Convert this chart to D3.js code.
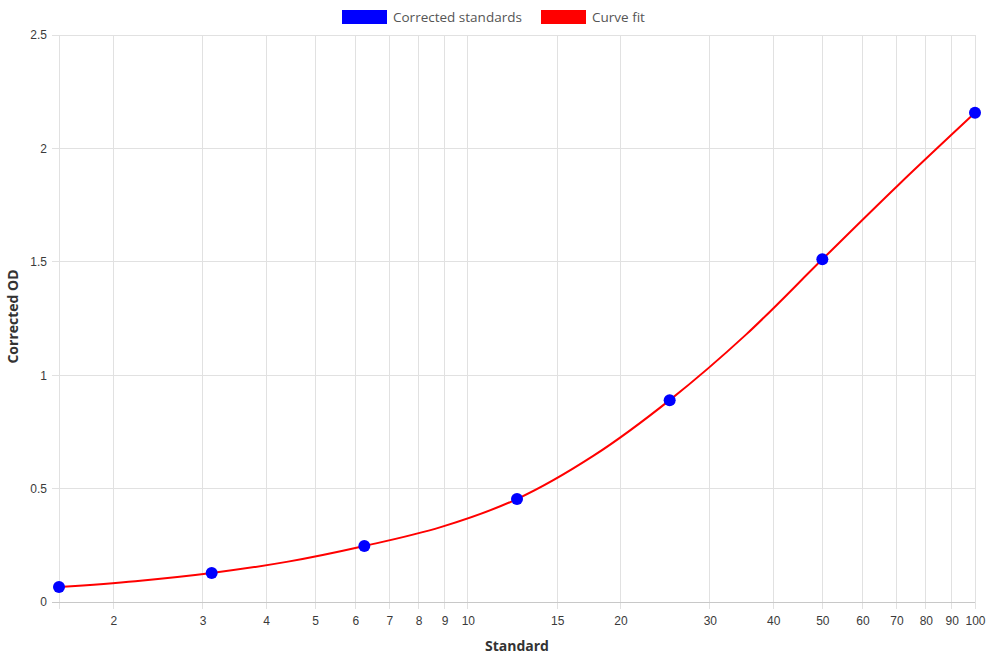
<!DOCTYPE html>
<html>
<head>
<meta charset="utf-8">
<script src="https://cdn.jsdelivr.net/npm/d3@7"></script>
<style>
  body { margin: 0; background: #fff; }
  svg { display: block; }
</style>
</head>
<body>
<div id="chart"></div>
<script>
// standards (measured points)
var stdX = [1.5625, 3.125, 6.25, 12.5, 25, 50, 100];
var stdY = [0.066, 0.128, 0.247, 0.454, 0.89, 1.511, 2.157];

// curve fit
var fitX = [1.5625, 2.21, 3.125, 4.42, 6.25, 8.84, 12.5, 17.7, 25, 35.4, 50, 70.7, 100];
var fitY = [0.066, 0.092, 0.128, 0.178, 0.247, 0.330, 0.454, 0.645, 0.89, 1.18, 1.511, 1.84, 2.157];

var xTicks = [2, 3, 4, 5, 6, 7, 8, 9, 10, 15, 20, 30, 40, 50, 60, 70, 80, 90, 100];
var yTicks = [0, 0.5, 1, 1.5, 2, 2.5];

var legendItems = [
  { label: "Corrected standards", color: "#0000ff" },
  { label: "Curve fit", color: "#ff0000" }
];

var W = 990, H = 660;
var margin = { top: 35, right: 15, bottom: 58, left: 59 },
    width = W - margin.left - margin.right,
    height = H - margin.top - margin.bottom;

var svg = d3.select("#chart").append("svg")
    .attr("width", W)
    .attr("height", H);

var g = svg.append("g")
    .attr("transform", "translate(" + margin.left + "," + margin.top + ")");

var x = d3.scaleLog().domain([1.5625, 100]).range([0, width]);
var y = d3.scaleLinear().domain([0, 2.5]).range([height, 0]);

var gridColor = "#e1e1e1";
var tickFont = "Liberation Sans, Arial, sans-serif";
var titleFont = "'Open Sans', Inter, sans-serif";

// vertical grid (includes the left edge at the first standard)
g.append("g")
  .selectAll("line")
  .data([1.5625].concat(xTicks))
  .enter().append("line")
    .attr("x1", d => x(d)).attr("x2", d => x(d))
    .attr("y1", 0).attr("y2", height + 7)
    .attr("stroke", gridColor).attr("stroke-width", 1)
    .attr("shape-rendering", "crispEdges");

// horizontal grid
g.append("g")
  .selectAll("line")
  .data(yTicks)
  .enter().append("line")
    .attr("x1", -7).attr("x2", width)
    .attr("y1", d => y(d)).attr("y2", d => y(d))
    .attr("stroke", d => d === 0 ? "#c8c8c8" : gridColor).attr("stroke-width", 1)
    .attr("shape-rendering", "crispEdges");

// x axis labels
var xAxis = g.append("g")
    .attr("transform", "translate(0," + height + ")")
    .call(d3.axisBottom(x).tickValues(xTicks).tickFormat(d3.format("d")).tickSize(0).tickPadding(14));
xAxis.select(".domain").remove();
xAxis.selectAll("text")
    .attr("font-family", tickFont).attr("font-size", 12).attr("fill", "#3a3a3a");

// y axis labels
var yAxis = g.append("g")
    .call(d3.axisLeft(y).tickValues(yTicks).tickFormat(d => d).tickSize(0).tickPadding(12));
yAxis.select(".domain").remove();
yAxis.selectAll("text")
    .attr("font-family", tickFont).attr("font-size", 12).attr("fill", "#3a3a3a");

// axis titles
svg.append("text")
    .attr("x", margin.left + width / 2)
    .attr("y", 651)
    .attr("text-anchor", "middle")
    .attr("font-family", titleFont)
    .attr("font-weight", "bold")
    .attr("font-size", 14)
    .attr("fill", "#333")
    .text("Standard");

svg.append("text")
    .attr("transform", "translate(18," + (margin.top + height / 2 - 2) + ")rotate(-90)")
    .attr("text-anchor", "middle")
    .attr("font-family", titleFont)
    .attr("font-weight", "bold")
    .attr("font-size", 14)
    .attr("fill", "#333")
    .text("Corrected OD");

// curve fit
var line = d3.line()
    .x(d => x(d[0]))
    .y(d => y(d[1]))
    .curve(d3.curveCatmullRom.alpha(0.5));

g.append("path")
    .datum(d3.zip(fitX, fitY))
    .attr("d", line)
    .attr("fill", "none")
    .attr("stroke", "#ff0000")
    .attr("stroke-width", 2);

// standards
g.selectAll("circle.std")
    .data(d3.zip(stdX, stdY))
    .enter().append("circle")
    .attr("class", "std")
    .attr("cx", d => x(d[0]))
    .attr("cy", d => y(d[1]))
    .attr("r", 6)
    .attr("fill", "#0000ff");

// legend
var legend = svg.append("g").attr("transform", "translate(342,10)");
var lx = [0, 199];
legendItems.forEach(function(item, i) {
  var lg = legend.append("g").attr("transform", "translate(" + lx[i] + ",0)");
  lg.append("rect")
    .attr("width", 45).attr("height", 14)
    .attr("fill", item.color);
  lg.append("text")
    .attr("x", 51).attr("y", 12)
    .attr("font-family", titleFont)
    .attr("font-size", 13.5)
    .attr("fill", "#555")
    .text(item.label);
});
</script>
</body>
</html>
